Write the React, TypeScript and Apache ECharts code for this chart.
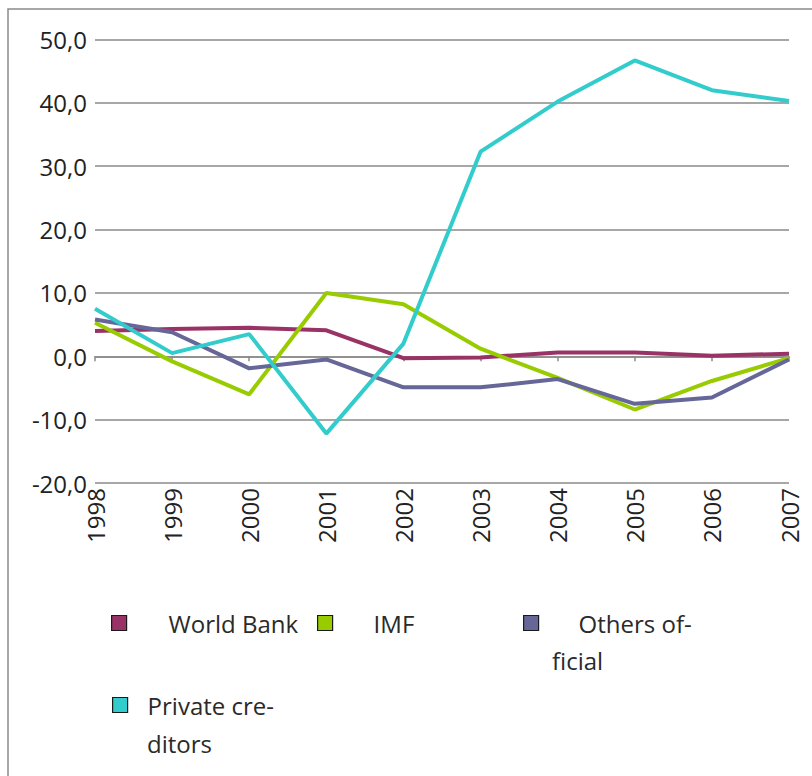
import React, { useEffect, useRef } from "react";
import * as echarts from "echarts";

const years = ["1998", "1999", "2000", "2001", "2002", "2003", "2004", "2005", "2006", "2007"];
const worldBank = [4.0, 4.3, 4.5, 4.1, -0.3, -0.2, 0.6, 0.6, 0.1, 0.4];
const imf = [5.3, -0.8, -6.0, 10.0, 8.2, 1.2, -3.4, -8.4, -3.9, -0.3];
const othersOfficial = [5.8, 3.8, -1.9, -0.5, -4.9, -4.9, -3.6, -7.5, -6.5, -0.5];
const privateCreditors = [7.5, 0.5, 3.5, -12.2, 2.0, 32.3, 40.2, 46.7, 42.0, 40.3];

const seriesNames = ["World Bank", "IMF", "Others official", "Private creditors"];
const legendLabels = ["World Bank", "IMF", "Others of-", "Private cre-"];
const legendSecondLines = ["", "", "ficial", "ditors"];
const colors = ["#993366", "#99cc00", "#666699", "#33cccc"];

const FONT = "Open Sans";

export default function App() {
  const ref = useRef<HTMLDivElement>(null);

  useEffect(() => {
    if (!ref.current) return;
    const chart = echarts.init(ref.current, null, { renderer: "svg" });
    const data = [worldBank, imf, othersOfficial, privateCreditors];

    const legendPos = [
      { left: 111, top: 608, pad: 37 },
      { left: 317, top: 608, pad: 36 },
      { left: 523, top: 608, pad: 35 },
      { left: 112, top: 690, pad: 15 },
    ];

    const legends = seriesNames.map((name, i) => ({
      show: true,
      left: legendPos[i].left,
      top: legendPos[i].top,
      padding: 0,
      orient: "horizontal",
      selectedMode: false,
      itemWidth: 15,
      itemHeight: 15,
      formatter: () => legendLabels[i],
      textStyle: {
        fontFamily: FONT,
        fontSize: 24,
        lineHeight: 30,
        color: "#2a2a2a",
        padding: [0, 0, 0, legendPos[i].pad],
      },
      data: [
        {
          name,
          icon: "rect",
          itemStyle: { color: colors[i], borderColor: "#1a1a1a", borderWidth: 1.2 },
        },
      ],
    }));

    const option: any = {
      animation: false,
      backgroundColor: "#ffffff",
      grid: { left: 95, right: 23, top: 39.5, bottom: 293, containLabel: false },
      xAxis: {
        type: "category",
        data: years,
        boundaryGap: false,
        axisLine: { show: true, lineStyle: { color: "#8a8a8a", width: 1.5 } },
        axisTick: { show: true, length: 5, lineStyle: { color: "#8a8a8a", width: 1.5 } },
        axisLabel: {
          rotate: 90,
          margin: 5,
          fontFamily: FONT,
          fontSize: 24,
          color: "#222222",
        },
        splitLine: { show: false },
      },
      yAxis: {
        type: "value",
        min: -20,
        max: 50,
        interval: 10,
        axisLine: { show: false },
        axisTick: { show: false },
        axisLabel: {
          margin: 8,
          fontFamily: FONT,
          fontSize: 24,
          color: "#222222",
          formatter: (v: number) => v.toFixed(1).replace(".", ","),
        },
        splitLine: { show: true, lineStyle: { color: "#8a8a8a", width: 1.5 } },
      },
      legend: legends,
      series: seriesNames.map((name, i) => ({
        name,
        type: "line",
        data: data[i],
        symbol: "none",
        showSymbol: false,
        lineStyle: { color: colors[i], width: 4 },
        itemStyle: { color: colors[i] },
        z: 2 + i,
      })),
      graphic: [
        {
          type: "rect",
          silent: true,
          shape: { x: 8, y: 9, width: 900, height: 900 },
          style: { fill: "none", stroke: "#8a8a8a", lineWidth: 1.5 },
          z: -10,
        },
        ...legendSecondLines
          .map((t, i) => ({ t, i }))
          .filter((o) => o.t)
          .map((o) => ({
            type: "text",
            x: o.i === 2 ? 552 : 147,
            y: o.i === 2 ? 660 : 743,
            style: {
              text: o.t,
              fontFamily: FONT,
              fontSize: 24,
              fill: "#2a2a2a",
              textVerticalAlign: "middle",
              verticalAlign: "middle",
            },
          })),
      ],
    };

    chart.setOption(option);
    return () => chart.dispose();
  }, []);

  return (
    <div
      ref={ref}
      style={{ position: "absolute", left: 0, top: 0, width: 812, height: 776 }}
    />
  );
}
